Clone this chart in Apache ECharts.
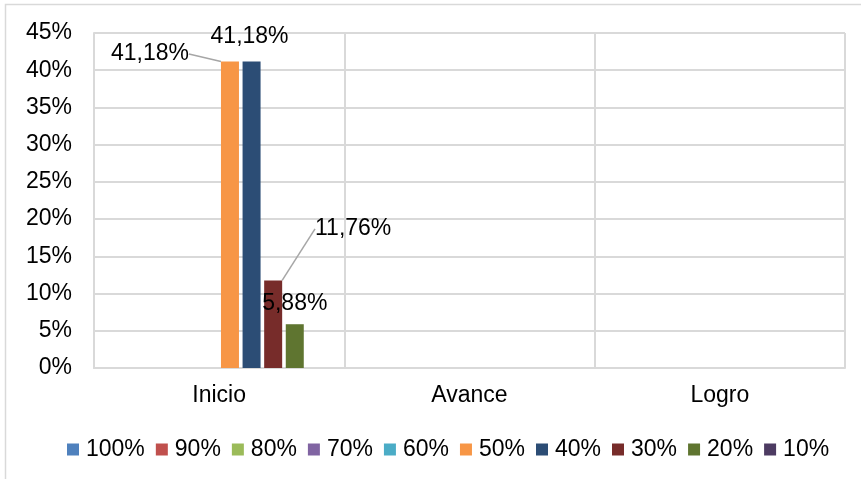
<!DOCTYPE html>
<html><head><meta charset="utf-8">
<script src="https://cdn.jsdelivr.net/npm/echarts@6/dist/echarts.min.js"></script>
<style>html,body{margin:0;padding:0;background:#fff}#c{width:861px;height:479px}</style>
</head><body><div id="c"></div>
<script>
const categories = ['Inicio', 'Avance', 'Logro'];
const seriesNames = ['100%', '90%', '80%', '70%', '60%', '50%', '40%', '30%', '20%', '10%'];
const s100 = [0, 0, 0];
const s90 = [0, 0, 0];
const s80 = [0, 0, 0];
const s70 = [0, 0, 0];
const s60 = [0, 0, 0];
const s50 = [41.18, 0, 0];
const s40 = [41.18, 0, 0];
const s30 = [11.76, 0, 0];
const s20 = [5.88, 0, 0];
const s10 = [0, 0, 0];
const yTicks = [0, 5, 10, 15, 20, 25, 30, 35, 40, 45];

const values = [s100, s90, s80, s70, s60, s50, s40, s30, s20, s10];
const colors = ['#4F81BD', '#C0504D', '#9BBB59', '#8064A2', '#4BACC6', '#F79646', '#2C4D75', '#772C2A', '#5F7530', '#4D3B62'];
const FONT = 'Liberation Sans, Arial, sans-serif';
const FS = 23;
const labelCfg = {
  '50%': {layout: {dx: -80, dy: 9}, line: true},
  '40%': {layout: {dx: -2, dy: -8}, line: false},
  '30%': {layout: {dx: 80, dy: -35}, line: true},
  '20%': {layout: {dx: 0, dy: -4}, line: false}
};
const fmt = v => v.toFixed(2).replace('.', ',') + '%';

const series = seriesNames.map((n, i) => {
  const cfg = labelCfg[n];
  const data = values[i].map(v => {
    if (cfg && v > 0) {
      return {value: v, label: {show: true}, labelLine: {show: cfg.line}};
    }
    return {value: v, label: {show: false}, labelLine: {show: false}};
  });
  const s = {
    name: n, type: 'bar', data: data, barWidth: 18, barGap: '20%',
    itemStyle: {color: colors[i]},
    emphasis: {disabled: true}
  };
  if (cfg) {
    s.label = {show: false, position: 'top', distance: 5, formatter: p => fmt(p.value),
      color: '#000', fontFamily: FONT, fontSize: FS};
    s.labelLayout = cfg.layout;
    s.labelLine = {show: false, lineStyle: {color: '#A6A6A6', width: 1.5}};
  }
  return s;
});

const chart = echarts.init(document.getElementById('c'), null, {renderer: 'canvas'});
chart.setOption({
  animation: false,
  backgroundColor: '#fff',
  graphic: [{type: 'rect', shape: {x: 5.5, y: 4.5, width: 900, height: 600}, style: {fill: 'none', stroke: '#d9d9d9', lineWidth: 1.5}, silent: true}],
  grid: {left: 94, right: 16, top: 33, bottom: 111},
  legend: {
    top: 433, left: 62, itemWidth: 12, itemHeight: 12, itemGap: 11,
    icon: 'rect', textStyle: {color: '#000', fontFamily: FONT, fontSize: FS, padding: [0, 0, 0, 2]},
    data: seriesNames
  },
  xAxis: {
    type: 'category', data: categories, boundaryGap: true,
    axisLine: {show: true, lineStyle: {color: '#d9d9d9', width: 2}},
    axisTick: {show: false},
    splitLine: {show: true, lineStyle: {color: '#d9d9d9', width: 2}},
    axisLabel: {color: '#000', fontFamily: FONT, fontSize: FS, margin: 16}
  },
  yAxis: {
    type: 'value', min: 0, max: 45, interval: 5,
    axisLine: {show: true, lineStyle: {color: '#d9d9d9', width: 2}},
    axisTick: {show: false},
    splitLine: {show: true, lineStyle: {color: '#d9d9d9', width: 2}},
    axisLabel: {color: '#000', fontFamily: FONT, fontSize: FS, margin: 22, formatter: v => yTicks.includes(v) ? v + '%' : ''}
  },
  series: series
});
</script></body></html>
